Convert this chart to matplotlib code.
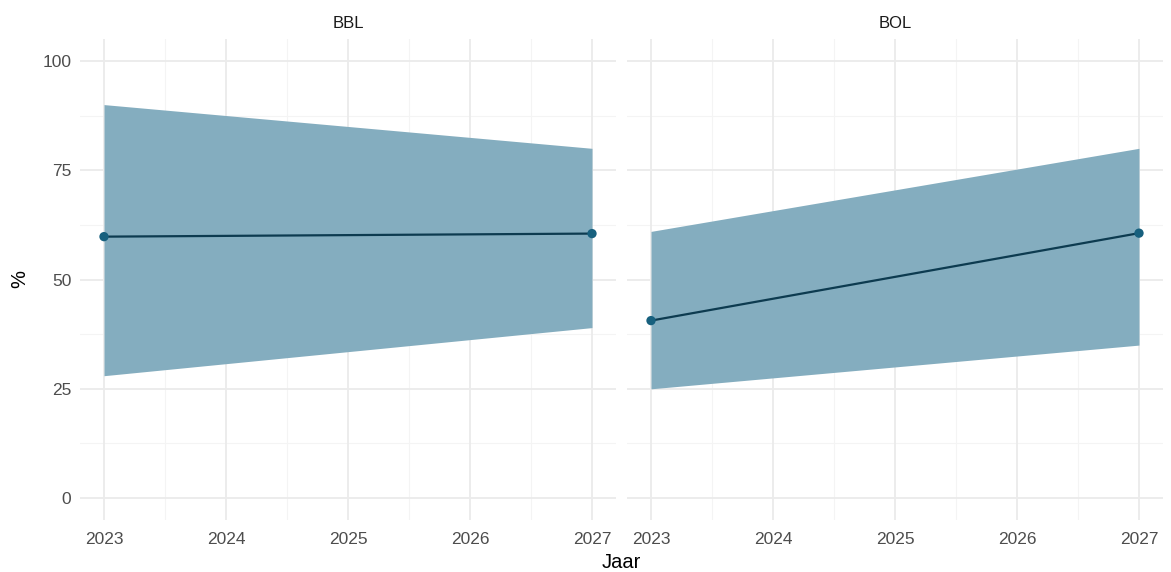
import matplotlib
matplotlib.use("Agg")
import matplotlib.pyplot as plt
import numpy as np

plt.rcParams['font.family'] = ['Liberation Sans', 'DejaVu Sans']

panels = ["BBL", "BOL"]
years = [2023, 2027]
mean_vals = {"BBL": [59.8, 60.5], "BOL": [40.6, 60.6]}
lower_vals = {"BBL": [28.0, 39.0], "BOL": [25.0, 35.0]}
upper_vals = {"BBL": [90.0, 80.0], "BOL": [61.0, 80.0]}
x_ticks = [2023, 2024, 2025, 2026, 2027]
y_ticks = [0, 25, 50, 75, 100]

ribbon_col = "#84ADBF"
line_col = "#0D3B50"
point_col = "#17607E"
grid_major = "#EBEBEB"
grid_minor = "#F4F4F4"

W, H = 1171, 572
fig = plt.figure(figsize=(W / 100, H / 100), dpi=100)

panel_px = [(79.6, 616.4), (626.6, 1163.4)]
top_px, bot_px = 39, 520

for i, (name, (x0, x1)) in enumerate(zip(panels, panel_px)):
    ax = fig.add_axes([x0 / W, (H - bot_px) / H, (x1 - x0) / W, (bot_px - top_px) / H])
    ax.set_xlim(2023 - 0.2, 2027 + 0.2)
    ax.set_ylim(-5, 105)
    for xm in np.arange(2023.5, 2027, 1.0):
        ax.axvline(xm, color=grid_minor, lw=0.8, zorder=0)
    for ym in np.arange(12.5, 100, 25):
        ax.axhline(ym, color=grid_minor, lw=0.8, zorder=0)
    for xt in x_ticks:
        ax.axvline(xt, color=grid_major, lw=1.3, zorder=0)
    for yt in y_ticks:
        ax.axhline(yt, color=grid_major, lw=1.3, zorder=0)
    ax.fill_between(years, lower_vals[name], upper_vals[name], color=ribbon_col, lw=0, zorder=2)
    ax.plot(years, mean_vals[name], color=line_col, lw=1.6, zorder=3)
    ax.scatter(years, mean_vals[name], color=point_col, s=45, zorder=4, edgecolors='none')
    for s in ax.spines.values():
        s.set_visible(False)
    ax.set_xticks(x_ticks)
    ax.set_xticklabels([str(x) for x in x_ticks])
    ax.tick_params(axis='both', length=0, labelsize=12.5, colors="#4D4D4D")
    ax.tick_params(axis='x', pad=9)
    ax.tick_params(axis='y', pad=6)
    if i == 0:
        ax.set_yticks(y_ticks)
        ax.set_yticklabels([str(y) for y in y_ticks])
    else:
        ax.set_yticks([])
    ax.set_title(name, fontsize=12, color="#1A1A1A", pad=8)

fig.text(621 / W, 1 - 563 / H, "Jaar", ha='center', va='center', fontsize=14.5, color="black")
fig.text(20 / W, 1 - 279 / H, "%", ha='center', va='center', rotation=90, fontsize=14.5, color="black")

fig.savefig("out.png", dpi=100, facecolor="white")
